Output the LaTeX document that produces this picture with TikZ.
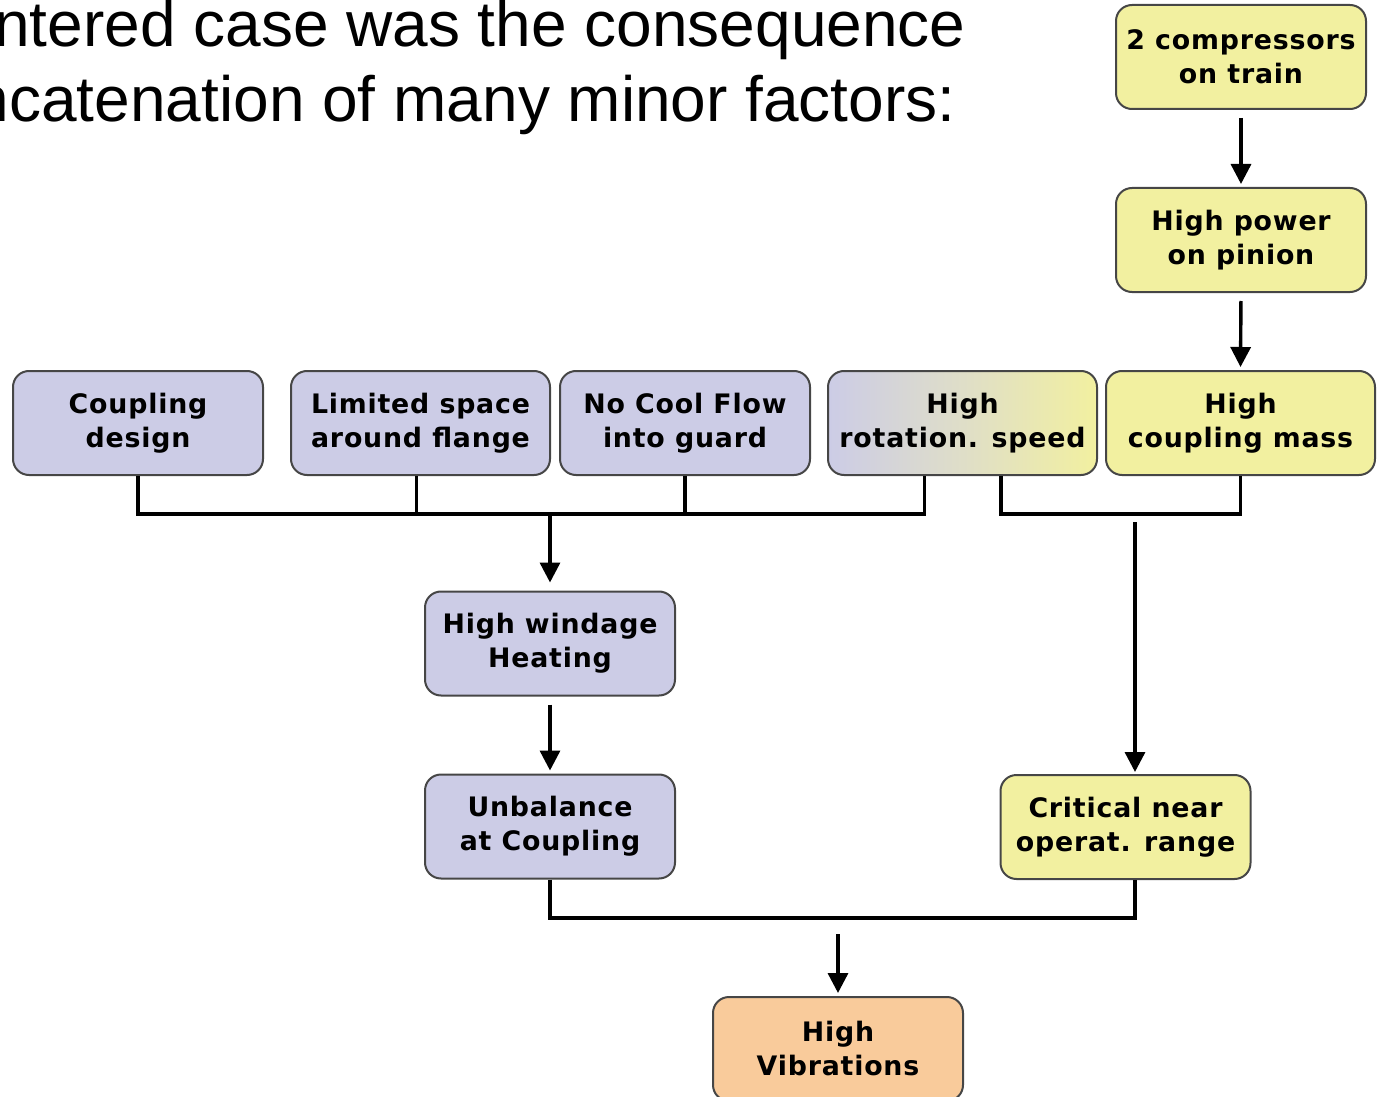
\documentclass[tikz,border=0pt]{standalone}
\usepackage{fontspec}
\setmainfont{Liberation Sans}
\newfontfamily\boxfontfam[LetterSpace=3]{DejaVu Sans}
\usetikzlibrary{arrows.meta,calc}
\definecolor{lav}{RGB}{204,204,230}
\definecolor{yel}{RGB}{242,240,160}
\definecolor{ora}{RGB}{249,203,155}
\definecolor{mixc}{RGB}{223,222,200}
\definecolor{boxline}{RGB}{70,70,70}
\tikzset{
  box/.style={draw=boxline, line width=1pt, rounded corners=8pt, minimum width=125pt,
    minimum height=52pt, inner sep=0pt, align=center,
    font=\boxfontfam\bfseries\fontsize{13.4}{17}\selectfont},
  lavbox/.style={box, fill=lav},
  yelbox/.style={box, fill=yel},
  orabox/.style={box, fill=ora},
  conn/.style={line width=1.7pt, line join=miter},
  arr/.style={conn, -{Triangle[width=10pt,length=10pt]}},
  titletext/.style={font=\fontsize{32}{37.5}\selectfont, inner sep=0pt, anchor=base east}
}
\begin{document}
\begin{tikzpicture}[x=0.5pt,y=-0.5pt]
\useasboundingbox (0,0) rectangle (1378,1097);
\begin{scope}
\clip (0,0) rectangle (1378,1097);
% title
\node[titletext] (t1) at (966,47) {ntered case was the consequence};
\node[titletext] (t2) at (956,122) {ncatenation of many minor factors:};
% boxes
\node[yelbox] (cp) at (1241,57) {2 compressors\\on train};
\node[yelbox] (hp) at (1241,240) {High power\\on pinion};
\node[lavbox] (cd) at (138,423) {Coupling\\design};
\node[lavbox, minimum width=129.5pt] (ls) at (420.5,423) {Limited space\\around flange};
\node[lavbox] (nc) at (685,423) {No Cool Flow\\into guard};
\node[box, minimum width=134.5pt, left color=lav, right color=yel, middle color=mixc] (hr) at (962.5,423) {High\\rotation. speed};
\node[yelbox, minimum width=134.5pt] (hm) at (1240.5,423) {High\\coupling mass};
\node[lavbox] (hw) at (550,643.5) {High windage\\Heating};
\node[lavbox] (ub) at (550,826.5) {Unbalance\\at Coupling};
\node[yelbox] (cr) at (1125.5,827) {Critical near\\operat. range};
\node[orabox] (hv) at (838,1049) {High\\Vibrations};
% connectors
\coordinate (j1) at (550,514);
\coordinate (j2) at (1135,514);
\coordinate (j3) at (838,918);
\coordinate (a2) at (1135,522);
\coordinate (lsleg) at ($(ls.south)+(-4,0)$);
\coordinate (hrl) at ($(hr.south)+(-38,0)$);
\coordinate (hrr) at ($(hr.south)+(38.5,0)$);
\draw[arr, shorten <=4pt, shorten >=1.5pt] (cp.south) -- (hp.north);
\draw[arr, shorten <=4pt, shorten >=1.5pt] (hp.south) -- (hm.north);
\draw[conn] (cd.south) |- (j1);
\draw[conn] (lsleg) -- (lsleg |- j1);
\draw[conn] (nc.south) -- (nc.south |- j1);
\draw[conn] (hrl) |- (j1);
\draw[arr, shorten >=4pt] (j1) -- (hw.north);
\draw[conn] (hrr) |- (j2) -| (hm.south);
\draw[arr, shorten >=1pt] (a2) -- (cr.north -| a2);
\draw[arr, shorten <=4pt, shorten >=1.5pt] (hw.south) -- (ub.north);
\draw[conn] (ub.south) |- (j3) -| (cr.south -| a2);
\draw[arr, shorten <=4pt, shorten >=1.5pt] ($(j3)+(0,8)$) -- (hv.north);
\end{scope}
\end{tikzpicture}
\end{document}
